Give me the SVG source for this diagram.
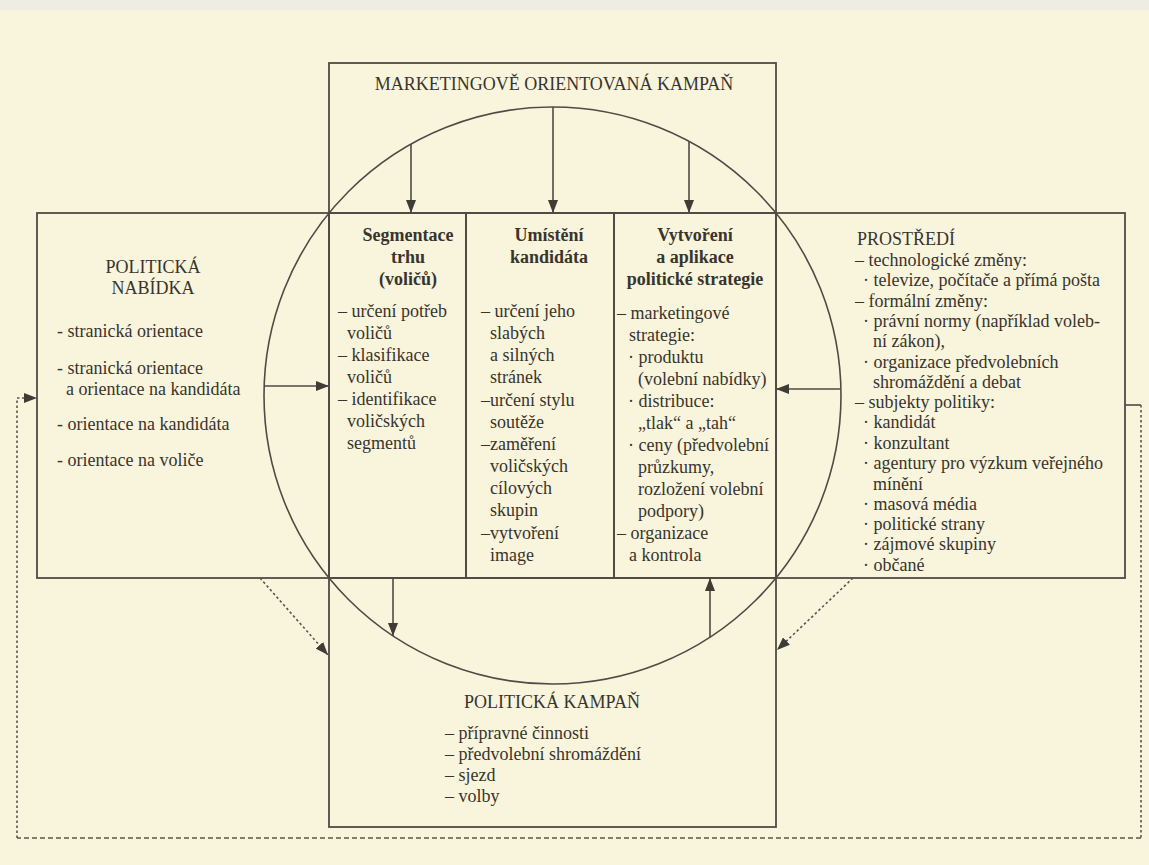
<svg xmlns="http://www.w3.org/2000/svg" width="1149" height="865" viewBox="0 0 1149 865">
<style>
.bg{fill:#f9f4dc}
.box{fill:none;stroke:#4f4b44;stroke-width:1.8}
.ln{fill:none;stroke:#4f4b44;stroke-width:1.6}
.dot{fill:none;stroke:#5a564e;stroke-width:1.6;stroke-dasharray:2.5 2.5}
.dash{fill:none;stroke:#5a564e;stroke-width:1.6;stroke-dasharray:5 3}
text{font-family:"Liberation Serif","Times New Roman",serif;font-size:18px;fill:#38342e}
.b{font-weight:bold}
.m{text-anchor:middle}
</style>
<defs>
<marker id="ah" markerUnits="userSpaceOnUse" markerWidth="14" markerHeight="10" refX="13" refY="5" orient="auto">
<path d="M0,0 L13,5 L0,10 z" fill="#3f3b35"/>
</marker>
</defs>
<rect class="bg" x="0" y="0" width="1149" height="865"/>
<rect x="0" y="0" width="1149" height="10" fill="#efece4"/>

<g id="top-box">
<rect class="box" x="329" y="63" width="447" height="150"/>
<text class="m" x="554" y="90">MARKETINGOVĚ ORIENTOVANÁ KAMPAŇ</text>
</g>

<g id="left-box">
<rect class="box" x="37" y="213" width="292" height="365"/>
<text class="m" x="153" y="273">POLITICKÁ</text>
<text class="m" x="153" y="294">NABÍDKA</text>
<text x="57" y="337">- stranická orientace</text>
<text x="57" y="374">- stranická orientace</text>
<text x="66" y="395">a orientace na kandidáta</text>
<text x="57" y="430">- orientace na kandidáta</text>
<text x="57" y="466">- orientace na voliče</text>
</g>

<g id="col-segmentace">
<rect class="box" x="329" y="213" width="137" height="365"/>
<text class="b m" x="408" y="241">Segmentace</text>
<text class="b m" x="408" y="263">trhu</text>
<text class="b m" x="408" y="285">(voličů)</text>
<text x="338" y="317">– určení potřeb</text>
<text x="347" y="339">voličů</text>
<text x="338" y="361">– klasifikace</text>
<text x="347" y="383">voličů</text>
<text x="338" y="405">– identifikace</text>
<text x="347" y="427">voličských</text>
<text x="347" y="449">segmentů</text>
</g>

<g id="col-umisteni">
<rect class="box" x="466" y="213" width="148" height="365"/>
<text class="b m" x="549" y="241">Umístění</text>
<text class="b m" x="549" y="263">kandidáta</text>
<text x="481" y="317">– určení jeho</text>
<text x="490" y="339">slabých</text>
<text x="490" y="361">a silných</text>
<text x="490" y="383">stránek</text>
<text x="481" y="406">–určení stylu</text>
<text x="490" y="428">soutěže</text>
<text x="481" y="450">–zaměření</text>
<text x="490" y="472">voličských</text>
<text x="490" y="494">cílových</text>
<text x="490" y="516">skupin</text>
<text x="481" y="539">–vytvoření</text>
<text x="490" y="561">image</text>
</g>

<g id="col-strategie">
<rect class="box" x="614" y="213" width="162" height="365"/>
<text class="b m" x="695" y="241">Vytvoření</text>
<text class="b m" x="695" y="263">a aplikace</text>
<text class="b m" x="695" y="285">politické strategie</text>
<text x="617" y="319">– marketingové</text>
<text x="629" y="341">strategie:</text>
<text x="628" y="363">· produktu</text>
<text x="638" y="385">(volební nabídky)</text>
<text x="628" y="407">· distribuce:</text>
<text x="638" y="429">„tlak“ a „tah“</text>
<text x="628" y="451">· ceny (předvolební</text>
<text x="638" y="473">průzkumy,</text>
<text x="638" y="495">rozložení volební</text>
<text x="638" y="517">podpory)</text>
<text x="617" y="539">– organizace</text>
<text x="629" y="561">a kontrola</text>
</g>

<g id="right-box">
<rect class="box" x="776" y="213" width="349" height="365"/>
<text x="857" y="245">PROSTŘEDÍ</text>
<text x="855" y="266">– technologické změny:</text>
<text x="863" y="286">· televize, počítače a přímá pošta</text>
<text x="855" y="307">– formální změny:</text>
<text x="863" y="327">· právní normy (například voleb-</text>
<text x="873" y="347">ní zákon),</text>
<text x="863" y="368">· organizace předvolebních</text>
<text x="873" y="388">shromáždění a debat</text>
<text x="855" y="408">– subjekty politiky:</text>
<text x="863" y="428">· kandidát</text>
<text x="863" y="449">· konzultant</text>
<text x="863" y="469">· agentury pro výzkum veřejného</text>
<text x="873" y="490">mínění</text>
<text x="863" y="510">· masová média</text>
<text x="863" y="530">· politické strany</text>
<text x="863" y="550">· zájmové skupiny</text>
<text x="863" y="571">· občané</text>
</g>

<g id="bottom-box">
<rect class="box" x="329" y="578" width="447" height="249"/>
<text class="m" x="552" y="708">POLITICKÁ KAMPAŇ</text>
<text x="445" y="739">– přípravné činnosti</text>
<text x="445" y="760">– předvolební shromáždění</text>
<text x="445" y="781">– sjezd</text>
<text x="445" y="802">– volby</text>
</g>

<g id="circle">
<circle class="ln" cx="552.5" cy="395.5" r="288.5"/>
</g>

<g id="connectors">
<line class="ln" x1="411" y1="144" x2="411" y2="213" marker-end="url(#ah)"/>
<line class="ln" x1="553" y1="107" x2="553" y2="213" marker-end="url(#ah)"/>
<line class="ln" x1="689" y1="142" x2="689" y2="213" marker-end="url(#ah)"/>
<line class="ln" x1="265" y1="386" x2="329" y2="386" marker-end="url(#ah)"/>
<line class="ln" x1="840" y1="389" x2="776" y2="389" marker-end="url(#ah)"/>
<line class="ln" x1="393" y1="578" x2="393" y2="636" marker-end="url(#ah)"/>
<line class="ln" x1="710" y1="637" x2="710" y2="578" marker-end="url(#ah)"/>
<line class="dot" x1="260" y1="578" x2="328" y2="655" marker-end="url(#ah)"/>
<line class="dot" x1="853" y1="578" x2="777" y2="650" marker-end="url(#ah)"/>
<polyline class="ln" points="1125,405 1141,405"/>
<polyline class="dot" points="1141,405 1141,838"/>
<polyline class="dash" points="1141,838 17,838"/>
<polyline class="dot" points="17,838 17,398"/>
<line class="dot" x1="17" y1="398" x2="37" y2="398" marker-end="url(#ah)"/>
</g>
</svg>
